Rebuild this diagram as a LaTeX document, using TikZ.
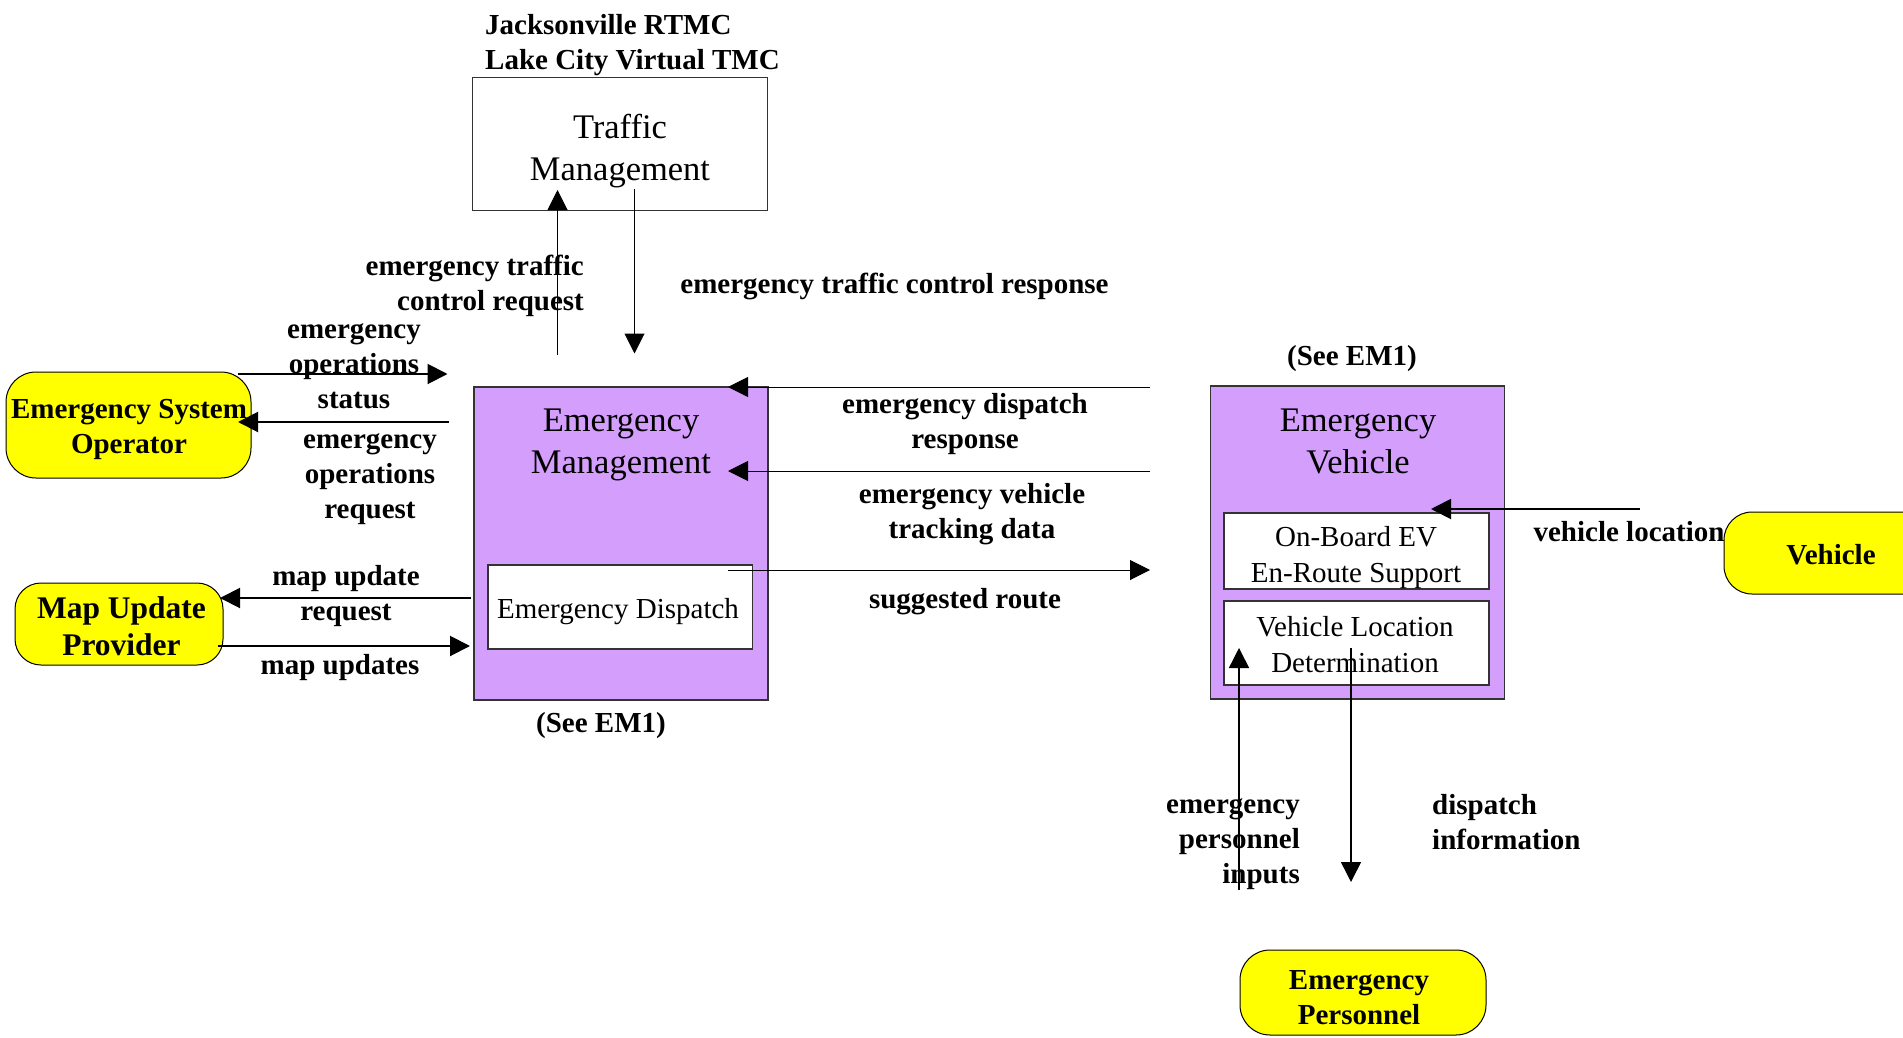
\documentclass[tikz,border=0pt]{standalone}
\usepackage{fontspec}
\setmainfont{Liberation Serif}
\usetikzlibrary{arrows.meta}
\definecolor{emPurple}{RGB}{212,158,252}
\definecolor{extYellow}{RGB}{255,255,0}
\begin{document}
\begin{tikzpicture}[x=1pt,y=-1pt,
  lbl/.style={font=\fontsize{29}{35}\selectfont\bfseries, align=center, inner sep=0pt, yshift=-3pt},
  bigtxt/.style={font=\fontsize{34.5}{42}\selectfont, align=center, inner sep=0pt, yshift=-3pt},
  midtxt/.style={font=\fontsize{29}{36}\selectfont, align=center, inner sep=0pt, yshift=-2pt},
  tmbox/.style={draw=black!80, line width=1.2pt, fill=white, inner sep=0pt},
  ssbox/.style={draw=black!80, line width=1.2pt, fill=emPurple, inner sep=0pt},
  subbox/.style={draw=black!80, line width=1.2pt, fill=white, inner sep=0pt},
  term/.style={draw=black, line width=1pt, fill=extYellow, rounded corners=30pt, inner sep=0pt},
  flow/.style={line width=1pt, -{Triangle[length=20pt,width=20pt]}},
  thickflow/.style={line width=2pt, -{Triangle[length=20pt,width=20pt]}}
]
\useasboundingbox (0,0) rectangle (1903,1038);
\clip (0,0) rectangle (1903,1038);
\fill[white] (0,0) rectangle (1903,1038);

% ---------- Traffic Management ----------
\node[tmbox, minimum width=295pt, minimum height=133pt] (tm) at (620,144) {};
\node[bigtxt] (tmtxt) at (620,148) {Traffic\\Management};
\node[lbl, anchor=west, align=left] (tmloc) at (485,42) {Jacksonville RTMC\\Lake City Virtual TMC};

% ---------- Emergency Management ----------
\node[ssbox, minimum width=294pt, minimum height=313pt] (em) at (621,543.5) {};
\node[bigtxt] (emtxt) at (621,442) {Emergency\\Management};
\node[subbox, minimum width=264.5pt, minimum height=84pt] (ed) at (620.25,607) {};
\node[midtxt] (edtxt) at (618,610) {Emergency Dispatch};
\node[lbl] (emref) at (601,723) {(See EM1)};

% ---------- Emergency Vehicle ----------
\node[ssbox, minimum width=294pt, minimum height=313pt] (ev) at (1357.5,542.5) {};
\node[bigtxt] (evtxt) at (1358,438.5) {Emergency\\Vehicle};
\node[subbox, minimum width=265pt, minimum height=76pt] (ob) at (1356.5,551) {};
\node[midtxt] (obtxt) at (1356,555.5) {On-Board EV\\En-Route Support};
\node[subbox, minimum width=265pt, minimum height=84pt] (vld) at (1356.5,643) {};
\node[midtxt] (vldtxt) at (1355,643) {Vehicle Location\\Determination};
\node[lbl] (evref) at (1352,356) {(See EM1)};

% ---------- Terminators ----------
\node[term, minimum width=245pt, minimum height=106pt] (eso) at (128.5,425) {};
\node[lbl] (esotxt) at (129,426.5) {Emergency System\\Operator};
\node[term, minimum width=208pt, minimum height=82pt, rounded corners=26pt] (mup) at (119,624) {};
\node[lbl, font=\fontsize{31.5}{37}\selectfont\bfseries] (muptxt) at (121.5,623.5) {Map Update\\Provider};
\node[term, minimum width=216pt, minimum height=82pt, rounded corners=28pt] (veh) at (1832,553) {};
\node[lbl] (vehtxt) at (1831,552) {Vehicle};
\node[term, minimum width=246pt, minimum height=85pt] (ep) at (1363,992.5) {};
\node[lbl] (eptxt) at (1359,994.5) {Emergency\\Personnel};

% ---------- connector end points ----------
\coordinate (tmreqS) at (557.5,355);
\coordinate (tmreqE) at (557.5,190);
\coordinate (tmrspS) at (634.5,189);
\coordinate (tmrspE) at (634.5,353.5);
\coordinate (esoA) at (238,374);
\coordinate (esoB) at (447.5,374);
\coordinate (esoC) at (449,422);
\coordinate (esoD) at (238,422);
\coordinate (mupA) at (471,598);
\coordinate (mupB) at (220,598);
\coordinate (mupC) at (218,646);
\coordinate (mupD) at (470,646);
\coordinate (edrS) at (1150,387);
\coordinate (edrE) at (728,387);
\coordinate (evtS) at (1150,471);
\coordinate (evtE) at (728,471);
\coordinate (srS) at (728,570);
\coordinate (srE) at (1150,570);
\coordinate (vlS) at (1640,509);
\coordinate (vlE) at (1431,509);
\coordinate (epiS) at (1239,890);
\coordinate (epiE) at (1239,648);
\coordinate (diS) at (1351,648);
\coordinate (diE) at (1351,882);

% ---------- connectors ----------
\draw[flow] (tmreqS) -- (tmreqE);
\draw[flow] (tmrspS) -- (tmrspE);
\draw[thickflow] (esoA) -- (esoB);
\draw[thickflow] (esoC) -- (esoD);
\draw[thickflow] (mupA) -- (mupB);
\draw[thickflow] (mupC) -- (mupD);
\draw[flow] (edrS) -- (edrE);
\draw[flow] (evtS) -- (evtE);
\draw[flow] (srS) -- (srE);
\draw[thickflow] (vlS) -- (vlE);
\draw[flow, line width=1.5pt] (epiS) -- (epiE);
\draw[flow, line width=1.5pt] (diS) -- (diE);

% ---------- labels ----------
\node[lbl, anchor=east, align=right] (l1) at (584,282.5) {emergency traffic\\control request};
\node[lbl] (l2) at (894.5,283) {emergency traffic control response};
\node[lbl] (l3) at (354,363) {emergency\\operations\\status};
\node[lbl] (l4) at (370,476) {emergency\\operations\\request};
\node[lbl] (l5) at (346,593) {map update\\request};
\node[lbl] (l6) at (340,664.5) {map updates};
\node[lbl] (l7) at (965,421.5) {emergency dispatch\\response};
\node[lbl] (l8) at (972,511) {emergency vehicle\\tracking data};
\node[lbl] (l9) at (965,599) {suggested route};
\node[lbl] (l10) at (1629,529) {vehicle location};
\node[lbl, anchor=east, align=right] (l11) at (1300,841) {emergency\\personnel\\inputs};
\node[lbl, anchor=west, align=left] (l12) at (1432,819.5) {dispatch\\information};
\end{tikzpicture}
\end{document}
